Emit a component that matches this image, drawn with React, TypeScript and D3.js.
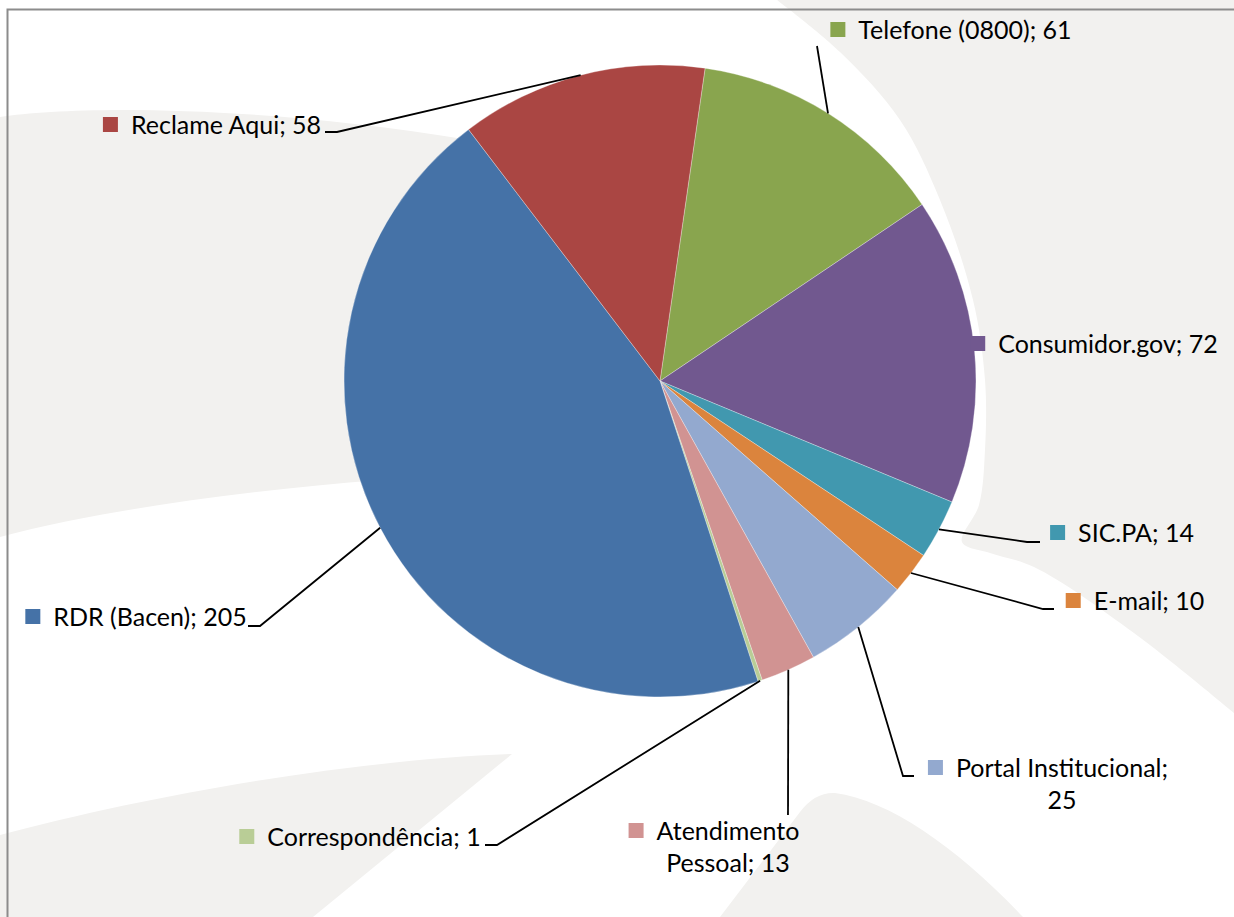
import React, { useEffect, useRef } from "react"
import * as d3 from "d3"

const categories = [
  "Telefone (0800)",
  "Consumidor.gov",
  "SIC.PA",
  "E-mail",
  "Portal Institucional",
  "Atendimento Pessoal",
  "Correspondência",
  "RDR (Bacen)",
  "Reclame Aqui"
]
const values = [61, 72, 14, 10, 25, 13, 1, 205, 58]
const colors = ["#89a54e", "#71588f", "#4198af", "#db843d", "#93a9cf", "#d19392", "#b9cd96", "#4572a7", "#aa4643"]
// words kept on the first line when the label wraps (0 = one line)
const wrapWords = [0, 0, 0, 0, 2, 1, 0, 0, 0]

// label layout: centre x and first baseline
const labelPos = [
  [965, 39], [1108, 353], [1136, 542], [1149, 610], [1062, 777],
  [728, 840], [374, 846], [150, 626], [226, 134]
]
// leader line points after the slice edge
const leaderPts = [
  [[817, 46]],
  [],
  [[1027, 542], [1040, 542]],
  [[1043, 609], [1054, 609]],
  [[903, 776], [914, 776]],
  [[788, 815]],
  [[497, 845], [485, 845]],
  [[260, 626], [248, 626]],
  [[337, 132], [325, 132]]
]

const width = 1234
const height = 917
const cx = 660
const cy = 381
const radius = 316
const startAngle = (8.2 * Math.PI) / 180

const bgFill = "#f2f1ef"

export default function App() {
  const ref = useRef(null)

  useEffect(() => {
    const svg = d3.select(ref.current)
    svg.selectAll("*").remove()

    // background swooshes
    const smooth = d3.line().curve(d3.curveCatmullRom)
    const bg = svg.append("g").attr("fill", bgFill)
    bg.append("path").attr(
      "d",
      "M0,117 C70,106 250,104 470,140 L660,381 L380,480 C250,490 100,510 0,537 Z"
    )
    const rightPts: [number, number][] = [
      [777, 0], [840, 52], [900, 120], [940, 200], [973, 300], [985, 380],
      [985, 450], [979, 505], [962, 542], [990, 553], [1034, 567], [1134, 633], [1234, 713]
    ]
    bg.append("path").attr("d", smooth(rightPts) + " L1234,0 Z")
    bg.append("path").attr("d", "M720,917 L800,812 Q815,792 835,793 C890,800 960,850 1023,917 Z")
    bg.append("path").attr("d", "M0,835 C150,795 350,760 512,754 L313,917 L0,917 Z")

    // frame
    svg
      .append("path")
      .attr("d", `M7.5,${height} L7.5,9.5 L${width},9.5`)
      .attr("fill", "none")
      .attr("stroke", "#8c8c8c")
      .attr("stroke-width", 2)

    const pie = d3
      .pie<number>()
      .sort(null)
      .startAngle(startAngle)
      .endAngle(startAngle + 2 * Math.PI)
    const arcs = pie(values)
    const arc = d3.arc<d3.PieArcDatum<number>>().innerRadius(0).outerRadius(radius)
    const edge = d3.arc<d3.PieArcDatum<number>>().innerRadius(radius).outerRadius(radius)

    svg
      .append("g")
      .attr("transform", `translate(${cx},${cy})`)
      .selectAll("path")
      .data(arcs)
      .enter()
      .append("path")
      .attr("d", arc)
      .attr("fill", (d, i) => colors[i])
      .attr("stroke", "#ffffff")
      .attr("stroke-width", 0.5)
      .attr("stroke-opacity", 0.6)

    // leader lines
    const leaders = svg.append("g").attr("fill", "none").attr("stroke", "#000").attr("stroke-width", 1.8)
    arcs.forEach((d, i) => {
      if (!leaderPts[i].length) return
      const [x0, y0] = edge.centroid(d)
      const pts = [[x0 + cx, y0 + cy], ...leaderPts[i]] as [number, number][]
      leaders.append("path").attr("d", d3.line()(pts))
    })

    // labels
    const labels = svg
      .append("g")
      .attr("font-family", "Lato, 'Open Sans', sans-serif")
      .attr("font-size", 25)
      .attr("fill", "#000")
    categories.forEach((c, i) => {
      const words = `${c}; ${values[i]}`.split(" ")
      const lines = wrapWords[i] ? [words.slice(0, wrapWords[i]).join(" "), words.slice(wrapWords[i]).join(" ")] : [words.join(" ")]
      const [lx, ly] = labelPos[i]
      const g = labels.append("g")
      let w0 = 0
      lines.forEach((t, j) => {
        const txt = g
          .append("text")
          .attr("x", lx)
          .attr("y", ly + j * 32)
          .attr("text-anchor", "middle")
          .text(t)
        if (j === 0) w0 = (txt.node() as SVGTextElement).getComputedTextLength()
      })
      g.append("rect")
        .attr("x", lx - w0 / 2 - 13 - 15)
        .attr("y", ly - 17)
        .attr("width", 15)
        .attr("height", 15)
        .attr("fill", colors[i])
    })
  }, [])

  return (
    <div style={{ position: "fixed", left: 0, top: 0, width, height, background: "#fff" }}>
      <svg ref={ref} width={width} height={height} style={{ display: "block" }}></svg>
    </div>
  )
}
